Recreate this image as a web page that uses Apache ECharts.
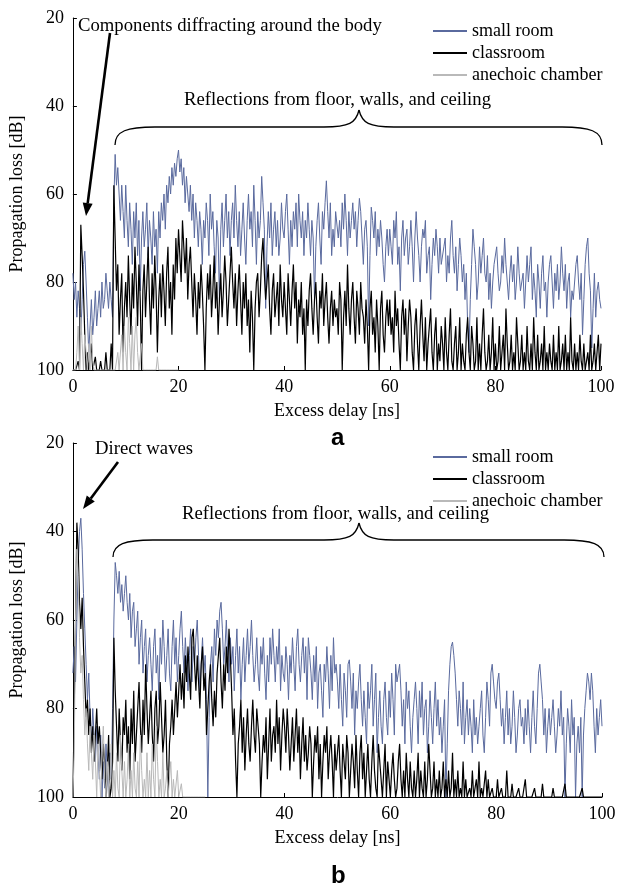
<!DOCTYPE html>
<html>
<head>
<meta charset="utf-8">
<script src="https://cdn.jsdelivr.net/npm/echarts@6/dist/echarts.min.js"></script>
<style>
html, body { margin: 0; padding: 0; background: #fff; }
#main { width: 629px; height: 887px; }
</style>
</head>
<body>
<div id="main"></div>
<script>
// propagation loss [dB], one sample every 0.25 ns (20 samples = 5 ns per row)
var smallRoomA = [
    78, 84, 80, 88, 82, 86, 92, 84, 76, 73, 80, 88, 96, 90, 84, 92, 88, 82, 90, 86,
    82, 88, 80, 86, 84, 78, 82, 86, 80, 84, 88, 62, 51, 58, 54, 60, 66, 58, 64, 70,
    58, 66, 72, 62, 68, 76, 64, 70, 62, 74, 66, 82, 70, 64, 72, 68, 62, 74, 66, 70,
    76, 64, 72, 68, 78, 64, 70, 62, 66, 60, 68, 58, 62, 56, 60, 54, 58, 53, 56, 52,
    50, 55, 52, 58, 54, 62, 56, 60, 64, 58, 66, 60, 70, 62, 66, 72, 64, 68, 76, 66,
    70, 62, 66, 74, 60, 68, 64, 72, 78, 66, 70, 84, 68, 62, 72, 66, 60, 70, 64, 74,
    66, 62, 70, 58, 66, 72, 64, 74, 68, 62, 70, 76, 66, 60, 68, 64, 72, 58, 66, 76,
    64, 70, 66, 56, 62, 68, 86, 72, 64, 70, 62, 74, 68, 64, 72, 66, 74, 70, 62, 68,
    70, 64, 60, 68, 76, 66, 72, 64, 68, 62, 72, 60, 66, 70, 64, 74, 66, 70, 62, 68,
    74, 66, 70, 84, 72, 66, 62, 70, 76, 64, 68, 62, 57, 64, 70, 62, 74, 68, 72, 64,
    64, 70, 66, 72, 62, 68, 60, 66, 74, 64, 70, 66, 62, 68, 64, 72, 66, 61, 64, 70,
    76, 68, 66, 72, 90, 74, 63, 66, 70, 64, 74, 68, 72, 66, 70, 76, 80, 72, 68, 74,
    68, 72, 76, 66, 70, 64, 76, 72, 82, 70, 66, 74, 70, 68, 76, 72, 66, 72, 80, 70,
    64, 70, 74, 80, 72, 68, 70, 66, 78, 74, 72, 84, 76, 70, 74, 68, 72, 78, 70, 76,
    76, 72, 70, 80, 74, 78, 70, 66, 74, 78, 72, 82, 76, 70, 74, 80, 76, 84, 78, 90,
    96, 84, 76, 68, 72, 76, 84, 80, 72, 78, 74, 70, 78, 80, 74, 84, 78, 86, 80, 76,
    76, 72, 78, 82, 80, 74, 78, 70, 76, 80, 84, 78, 74, 80, 76, 84, 80, 72, 78, 82,
    82, 78, 86, 80, 74, 80, 76, 72, 84, 78, 82, 88, 76, 80, 86, 78, 74, 82, 80, 88,
    80, 76, 74, 80, 86, 78, 82, 76, 84, 80, 72, 78, 82, 76, 86, 80, 78, 88, 82, 84,
    80, 76, 74, 80, 84, 78, 92, 84, 76, 72, 70, 78, 82, 95, 86, 78, 88, 82, 80, 84,
    86];

var classroomA = [
    100, 100, 100, 100, 98, 100, 67, 74, 82, 92, 100, 96, 100, 100, 94, 100, 100, 97, 100, 100,
    100, 98, 100, 100, 100, 96, 100, 100, 100, 94, 100, 58, 70, 82, 76, 92, 84, 78, 96, 86,
    80, 88, 74, 84, 92, 78, 86, 72, 80, 90, 76, 84, 100, 82, 76, 88, 80, 72, 84, 92,
    78, 86, 74, 82, 96, 84, 78, 88, 76, 82, 90, 78, 72, 86, 80, 92, 76, 84, 70, 78,
    68, 74, 80, 66, 72, 78, 70, 84, 76, 72, 80, 88, 78, 84, 92, 80, 86, 76, 82, 90,
    100, 86, 78, 84, 76, 88, 82, 74, 86, 80, 92, 84, 78, 88, 82, 74, 80, 90, 84, 78,
    72, 80, 86, 78, 90, 82, 76, 84, 92, 80, 86, 78, 90, 84, 96, 82, 88, 100, 86, 80,
    78, 88, 82, 74, 70, 78, 84, 80, 76, 86, 92, 82, 78, 88, 84, 80, 90, 76, 84, 88,
    80, 86, 92, 78, 84, 90, 82, 76, 86, 80, 94, 84, 88, 80, 92, 86, 100, 84, 90, 82,
    78, 86, 92, 84, 80, 88, 94, 82, 86, 78, 90, 84, 80, 88, 94, 86, 82, 90, 84, 88,
    86, 92, 80, 84, 100, 88, 82, 90, 76, 86, 92, 84, 80, 88, 94, 82, 86, 92, 80, 86,
    88, 94, 84, 90, 100, 86, 82, 92, 88, 96, 84, 90, 100, 86, 82, 92, 96, 88, 84, 90,
    84, 92, 88, 96, 82, 90, 86, 94, 100, 88, 84, 92, 86, 98, 90, 84, 88, 96, 100, 90,
    86, 94, 100, 90, 84, 92, 98, 88, 100, 94, 90, 86, 96, 100, 92, 88, 100, 94, 98, 90,
    94, 100, 88, 96, 100, 92, 86, 98, 100, 94, 90, 100, 96, 88, 100, 94, 98, 100, 92, 88,
    96, 100, 90, 94, 100, 98, 88, 100, 94, 100, 92, 86, 96, 100, 98, 92, 100, 96, 88, 100,
    94, 100, 98, 90, 100, 96, 92, 100, 86, 94, 100, 98, 92, 100, 96, 100, 88, 94, 100, 98,
    92, 100, 96, 100, 90, 98, 100, 94, 100, 88, 96, 100, 92, 100, 98, 94, 100, 90, 100, 96,
    100, 94, 98, 100, 92, 100, 96, 100, 90, 100, 98, 94, 100, 92, 100, 96, 100, 88, 98, 100,
    94, 100, 96, 100, 92, 98, 100, 94, 100, 100, 96, 100, 92, 100, 98, 94, 100, 96, 92, 100,
    94];

var anechoicA = [
    100, 100, 100, 96, 90, 100, 88, 94, 100, 92, 96, 100, 94, 100, 90, 98, 100, 100, 100, 100,
    100, 100, 100, 100, 100, 100, 100, 100, 100, 100, 100, 100, 100, 100, 96, 100, 100, 92, 100, 90,
    96, 100, 88, 94, 100, 90, 100, 92, 88, 96, 100, 100, 94, 100, 100, 100, 100, 100, 100, 100,
    100, 100, 100, 100, 97, 100, 100, 100, 100, 100, 100, 100, 100, 100, 100, 100, 100, 100, 100, 100,
    100];

var smallRoomB = [
    72, 66, 74, 60, 48, 40, 37, 44, 54, 62, 70, 78, 72, 82, 88, 80, 86, 92, 84, 90,
    96, 86, 100, 92, 98, 88, 94, 100, 90, 96, 80, 60, 47, 50, 54, 49, 56, 52, 58, 54,
    50, 56, 60, 54, 64, 58, 56, 66, 62, 58, 70, 64, 60, 72, 66, 62, 74, 68, 64, 70,
    76, 66, 62, 72, 68, 78, 64, 70, 60, 66, 74, 68, 62, 72, 76, 66, 60, 70, 64, 74,
    68, 62, 58, 66, 72, 64, 70, 76, 68, 62, 74, 66, 70, 64, 60, 68, 76, 70, 64, 72,
    68, 78, 100, 82, 70, 66, 74, 62, 68, 60, 64, 58, 56, 62, 70, 66, 60, 68, 74, 64,
    70, 66, 76, 68, 62, 72, 66, 78, 70, 64, 74, 68, 62, 70, 66, 60, 68, 74, 70, 64,
    72, 76, 66, 70, 64, 72, 78, 68, 74, 64, 70, 62, 68, 74, 66, 70, 62, 76, 68, 72,
    74, 66, 70, 78, 68, 72, 64, 70, 76, 66, 62, 70, 74, 68, 64, 72, 66, 78, 64, 68,
    72, 78, 68, 74, 66, 80, 72, 70, 76, 82, 70, 74, 66, 72, 80, 68, 76, 64, 72, 70,
    74, 80, 70, 78, 84, 72, 76, 82, 70, 69, 74, 80, 72, 86, 76, 80, 74, 70, 78, 84,
    76, 82, 88, 74, 80, 76, 70, 84, 78, 72, 90, 82, 76, 84, 88, 78, 74, 82, 86, 76,
    82, 72, 78, 86, 70, 74, 72, 70, 76, 84, 78, 88, 74, 80, 76, 84, 90, 82, 78, 74,
    80, 88, 76, 82, 74, 86, 80, 78, 90, 84, 76, 82, 88, 80, 74, 84, 78, 86, 82, 90,
    84, 78, 100, 88, 76, 70, 66, 65, 68, 72, 78, 84, 76, 80, 86, 74, 88, 82, 78, 86,
    80, 84, 90, 78, 86, 82, 88, 84, 80, 76, 86, 90, 82, 74, 78, 84, 72, 70, 74, 78,
    80, 74, 72, 78, 84, 80, 88, 82, 76, 86, 80, 88, 84, 76, 82, 90, 86, 80, 78, 84,
    82, 88, 80, 86, 78, 84, 90, 82, 76, 84, 88, 80, 72, 70, 74, 78, 86, 80, 90, 84,
    80, 86, 82, 78, 84, 90, 86, 80, 84, 76, 86, 82, 100, 88, 80, 84, 90, 78, 86, 82,
    100, 88, 84, 90, 82, 100, 86, 80, 76, 72, 74, 78, 72, 76, 84, 90, 80, 86, 82, 78,
    84];

var classroomB = [
    100, 100, 60, 38, 44, 56, 62, 55, 66, 74, 82, 78, 86, 80, 90, 84, 92, 86, 80, 88,
    84, 90, 96, 88, 92, 100, 94, 86, 100, 98, 92, 64, 76, 84, 92, 80, 88, 94, 82, 86,
    78, 90, 84, 96, 80, 88, 76, 92, 86, 80, 74, 84, 90, 78, 86, 70, 80, 88, 82, 76,
    86, 92, 80, 76, 88, 84, 74, 82, 90, 86, 78, 92, 100, 88, 84, 78, 86, 80, 74, 82,
    76, 70, 78, 72, 80, 68, 74, 66, 72, 78, 64, 62, 70, 76, 68, 74, 80, 70, 66, 76,
    72, 86, 80, 74, 70, 78, 84, 76, 82, 72, 68, 64, 74, 80, 70, 76, 66, 72, 62, 68,
    76, 86, 80, 92, 100, 88, 84, 78, 90, 82, 94, 86, 80, 88, 92, 84, 78, 86, 90, 80,
    84, 88, 100, 92, 86, 90, 82, 96, 88, 80, 92, 86, 84, 90, 78, 88, 82, 94, 86, 80,
    84, 90, 80, 86, 94, 88, 82, 92, 86, 80, 90, 84, 96, 88, 82, 92, 86, 94, 90, 84,
    88, 100, 92, 86, 90, 84, 96, 88, 100, 92, 86, 90, 84, 96, 90, 86, 92, 100, 88, 94,
    90, 86, 94, 100, 88, 92, 96, 86, 90, 100, 94, 88, 92, 98, 86, 94, 100, 90, 86, 96,
    90, 100, 94, 88, 96, 100, 92, 86, 94, 98, 100, 88, 92, 96, 100, 94, 88, 100, 92, 96,
    100, 94, 90, 96, 100, 98, 92, 88, 96, 100, 94, 100, 90, 96, 100, 92, 98, 100, 94, 100,
    96, 90, 100, 94, 98, 100, 92, 100, 96, 88, 94, 100, 98, 92, 100, 96, 100, 94, 100, 98,
    92, 100, 96, 100, 94, 100, 98, 90, 100, 96, 100, 94, 100, 98, 100, 92, 100, 96, 100, 100,
    98, 100, 94, 100, 100, 96, 100, 92, 100, 98, 100, 100, 94, 100, 96, 100, 100, 98, 100, 100,
    100, 96, 100, 100, 98, 100, 100, 100, 94, 100, 100, 100, 97, 100, 100, 100, 100, 98, 100, 100,
    100, 100, 96, 100, 100, 100, 100, 100, 100, 98, 100, 100, 100, 100, 100, 97, 100, 100, 100, 100,
    100, 100, 100, 98, 100, 100, 100, 100, 100, 100, 100, 100, 97, 100, 100, 100, 100, 100, 100, 100,
    100, 100, 100, 100, 100, 98, 100, 100, 100, 100, 100, 100, 100, 100, 100, 100, 100, 100, 100, 100,
    100];

var anechoicB = [
    100, 90, 60, 44, 50, 64, 72, 68, 78, 86, 80, 88, 94, 84, 90, 96, 86, 92, 100, 88,
    94, 100, 90, 84, 96, 100, 92, 100, 96, 88, 100, 94, 100, 90, 98, 100, 86, 94, 100, 92,
    100, 96, 88, 100, 94, 100, 90, 98, 100, 92, 100, 86, 94, 100, 96, 100, 90, 100, 94, 100,
    88, 96, 100, 84, 92, 100, 96, 100, 90, 100, 98, 94, 100, 100, 92, 100, 96, 100, 100, 94,
    100, 100, 97, 100, 100, 100, 100, 100, 100, 100, 100, 100, 100, 100, 100, 100, 100, 100, 100, 100,
    100];

var seriesNames = ['small room', 'classroom', 'anechoic chamber'];
var seriesColors = ['#5a6a9e', '#000000', '#b9b9b9'];
var yTicks = [20, 40, 60, 80, 100];
var xTicks = [0, 20, 40, 60, 80, 100];

var step = 0.25; // ns per sample
function toPairs(arr) {
    var out = [];
    for (var i = 0; i < arr.length; i++) {
        out.push([i * step, arr[i]]);
    }
    return out;
}

var serif = '"Liberation Serif", "DejaVu Serif", serif';

function xAxisFor(gi) {
    return {
        gridIndex: gi,
        type: 'value',
        min: xTicks[0], max: xTicks[xTicks.length - 1], interval: 20,
        name: 'Excess delay [ns]',
        nameLocation: 'middle',
        nameGap: 32,
        nameTextStyle: { fontFamily: serif, fontSize: 18, color: '#000' },
        axisLine: { lineStyle: { color: '#000', width: 1 } },
        axisTick: { inside: true, length: 4, lineStyle: { color: '#000' } },
        axisLabel: { fontFamily: serif, fontSize: 18, color: '#000', margin: 8 },
        splitLine: { show: false }
    };
}
function yAxisFor(gi) {
    return {
        gridIndex: gi,
        type: 'value',
        inverse: true,
        min: yTicks[0], max: yTicks[yTicks.length - 1], interval: 20,
        name: 'Propagation loss [dB]',
        nameLocation: 'middle',
        nameGap: 44,
        nameTextStyle: { fontFamily: serif, fontSize: 18, color: '#000' },
        axisLine: { show: true, lineStyle: { color: '#000', width: 1 } },
        axisTick: { show: true, inside: true, length: 4, lineStyle: { color: '#000' } },
        axisLabel: { fontFamily: serif, fontSize: 18, color: '#000', margin: 9 },
        splitLine: { show: false }
    };
}
function lineSeries(name, data, gi, color, w) {
    return {
        name: name,
        type: 'line',
        xAxisIndex: gi, yAxisIndex: gi,
        data: toPairs(data),
        showSymbol: false,
        symbol: 'none',
        lineStyle: { color: color, width: w },
        itemStyle: { color: color },
        animation: false,
        clip: true
    };
}
function legendFor(top) {
    return {
        data: seriesNames,
        orient: 'vertical',
        left: 433, top: top,
        padding: 0,
        icon: 'rect',
        itemWidth: 34, itemHeight: 2,
        itemGap: 4,
        textStyle: { fontFamily: serif, fontSize: 18, color: '#000' },
        selectedMode: false
    };
}

// curly brace above the reflection part, built from bezier pieces
function brace(x0, x1, xm, yEnd, yTop, yTip) {
    var st = { stroke: '#000', lineWidth: 1.3, fill: null };
    return [
        { type: 'bezierCurve', shape: { x1: x0, y1: yEnd, cpx1: x0, cpy1: yTop + 4, cpx2: x0 + 12, cpy2: yTop, x2: x0 + 40, y2: yTop }, style: st },
        { type: 'line', shape: { x1: x0 + 40, y1: yTop, x2: xm - 35, y2: yTop }, style: st },
        { type: 'bezierCurve', shape: { x1: xm - 35, y1: yTop, cpx1: xm - 10, cpy1: yTop, cpx2: xm - 3, cpy2: yTop - 4, x2: xm, y2: yTip }, style: st },
        { type: 'bezierCurve', shape: { x1: xm, y1: yTip, cpx1: xm + 3, cpy1: yTop - 4, cpx2: xm + 10, cpy2: yTop, x2: xm + 35, y2: yTop }, style: st },
        { type: 'line', shape: { x1: xm + 35, y1: yTop, x2: x1 - 40, y2: yTop }, style: st },
        { type: 'bezierCurve', shape: { x1: x1 - 40, y1: yTop, cpx1: x1 - 12, cpy1: yTop, cpx2: x1, cpy2: yTop + 4, x2: x1, y2: yEnd }, style: st }
    ];
}
function arrow(x0, y0, x1, y1) {
    var ang = Math.atan2(y1 - y0, x1 - x0);
    var len = 13, half = 5;
    var bx = x1 - len * Math.cos(ang), by = y1 - len * Math.sin(ang);
    var px = -Math.sin(ang) * half, py = Math.cos(ang) * half;
    return [
        { type: 'line', shape: { x1: x0, y1: y0, x2: bx, y2: by }, style: { stroke: '#000', lineWidth: 2.6 } },
        { type: 'polygon', shape: { points: [[x1, y1], [bx + px, by + py], [bx - px, by - py]] }, style: { fill: '#000' } }
    ];
}
function label(text, x, y, extra) {
    var st = { text: text, fontFamily: serif, fontSize: 18.7, fill: '#000' };
    if (extra) { for (var k in extra) st[k] = extra[k]; }
    return { type: 'text', x: x, y: y, style: st };
}

var sans = '"Liberation Sans", Arial, sans-serif';
var graphics = [
    label('Components diffracting around the body', 78, 17),
    label('Reflections from floor, walls, and ceiling', 184, 91),
    label('Direct waves', 95, 440),
    label('Reflections from floor, walls, and ceiling', 182, 505),
    label('a', 331, 426, { fontFamily: sans, fontWeight: 'bold', fontSize: 24 }),
    label('b', 331, 864, { fontFamily: sans, fontWeight: 'bold', fontSize: 24 })
].concat(brace(115, 602, 359, 145, 127, 110))
 .concat(brace(113, 604, 359, 557, 540, 523))
 .concat(arrow(110, 33, 86, 216))
 .concat(arrow(118, 462, 83, 509));

var chart = echarts.init(document.getElementById('main'), null, { renderer: 'canvas' });
var option = {
    backgroundColor: '#fff',
    animation: false,
    grid: [
        { left: 72, top: 18, width: 529, height: 352 },
        { left: 71, top: 443, width: 531, height: 354 }
    ],
    xAxis: [xAxisFor(0), xAxisFor(1)],
    yAxis: [yAxisFor(0), yAxisFor(1)],
    legend: [legendFor(22), legendFor(448)],
    series: [
        lineSeries(seriesNames[0], smallRoomA, 0, seriesColors[0], 1),
        lineSeries(seriesNames[1], classroomA, 0, seriesColors[1], 1.2),
        lineSeries(seriesNames[2], anechoicA, 0, seriesColors[2], 1),
        lineSeries(seriesNames[0], smallRoomB, 1, seriesColors[0], 1),
        lineSeries(seriesNames[1], classroomB, 1, seriesColors[1], 1.2),
        lineSeries(seriesNames[2], anechoicB, 1, seriesColors[2], 1)
    ],
    graphic: graphics
};
chart.setOption(option);
</script>
</body>
</html>
